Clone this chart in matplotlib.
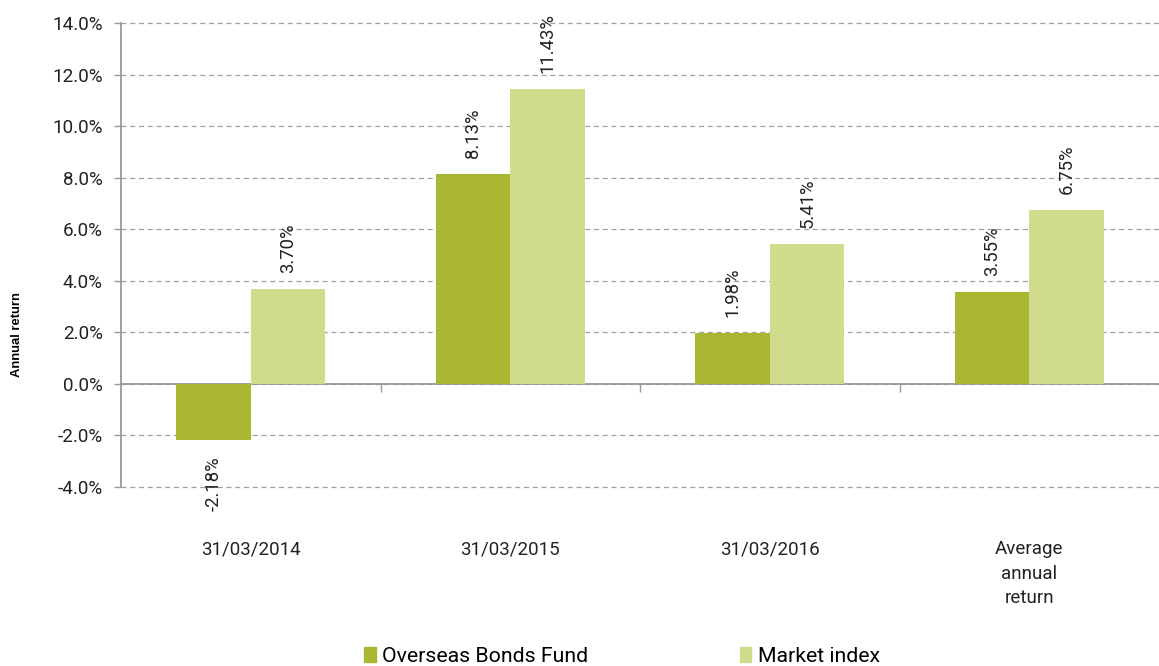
import matplotlib
matplotlib.use("Agg")
import matplotlib.pyplot as plt
import numpy as np
from matplotlib.patches import Patch

categories = ["31/03/2014", "31/03/2015", "31/03/2016", "Average\nannual\nreturn"]
fund = [-2.18, 8.13, 1.98, 3.55]
index = [3.70, 11.43, 5.41, 6.75]
series_names = ["Overseas Bonds Fund", "Market index"]
yticks = [-4, -2, 0, 2, 4, 6, 8, 10, 12, 14]

c_fund = "#a9b733"
c_index = "#d0dc8c"

plt.rcParams['font.family'] = ['Roboto', 'DejaVu Sans']

fig = plt.figure(figsize=(11.59, 6.66), dpi=100)
ax = fig.add_axes([121/1159, 1-487/666, 1-121/1159, 464/666])

x = np.arange(len(categories))
w = 0.288
b1 = ax.bar(x - w/2, fund, w, color=c_fund, zorder=3)
b2 = ax.bar(x + w/2, index, w, color=c_index, zorder=3)

for bars, vals in ((b1, fund), (b2, index)):
    for r, v in zip(bars, vals):
        cx = r.get_x() + r.get_width()/2
        if v >= 0:
            ax.annotate(f"{v:.2f}%", (cx, v), xytext=(0, 11.5), textcoords="offset points",
                        rotation=90, ha="center", va="bottom", fontsize=13.3, color="#222222")
        else:
            ax.annotate(f"{v:.2f}%", (cx, v), xytext=(0, -11.5), textcoords="offset points",
                        rotation=90, ha="center", va="top", fontsize=13.3, color="#222222")

ax.set_xlim(-0.5, len(categories) - 0.5)
ax.set_ylim(-4, 14)
ax.set_yticks(yticks)
ax.set_yticklabels([f"{t:.1f}%" for t in yticks], fontsize=13.6, color="#222222")
ax.yaxis.grid(True, linestyle=(0, (4, 3)), color="#a0a0a0", linewidth=0.9, zorder=0)
for gl in ax.get_ygridlines():
    gl.set_clip_on(False)

for s in ("top", "right"):
    ax.spines[s].set_visible(False)
ax.spines["left"].set_color("#999999")
ax.spines["left"].set_linewidth(1.3)
ax.spines["bottom"].set_position(("data", 0))
ax.spines["bottom"].set_color("#999999")
ax.spines["bottom"].set_linewidth(1.3)
ax.tick_params(axis="y", length=5, color="#999999", width=1, pad=8)
ax.set_xticks(np.arange(len(categories) - 1) + 0.5)
ax.set_xticklabels([])
ax.tick_params(axis="x", length=6, color="#999999", width=1, direction="out")

for xi, lab in zip(x, categories):
    ax.text(xi, -0.115, lab, transform=ax.get_xaxis_transform(), ha="center", va="top",
            fontsize=13.5, color="#222222", linespacing=1.45)

fig.text(17/1159, 1-335/666, "Annual return", rotation=90, ha="center", va="center",
         fontsize=9.4, fontweight="bold", family=["Liberation Sans", "DejaVu Sans"])

handles = [Patch(color=c_fund), Patch(color=c_index)]
fig.legend(handles, series_names, loc="center", bbox_to_anchor=(622/1159, 1-656/666),
           ncol=2, frameon=False, fontsize=15.3, handlelength=0.56, handleheight=0.7,
           handletextpad=0.3, columnspacing=7.1, borderpad=0)

fig.savefig("out.png", dpi=100)
